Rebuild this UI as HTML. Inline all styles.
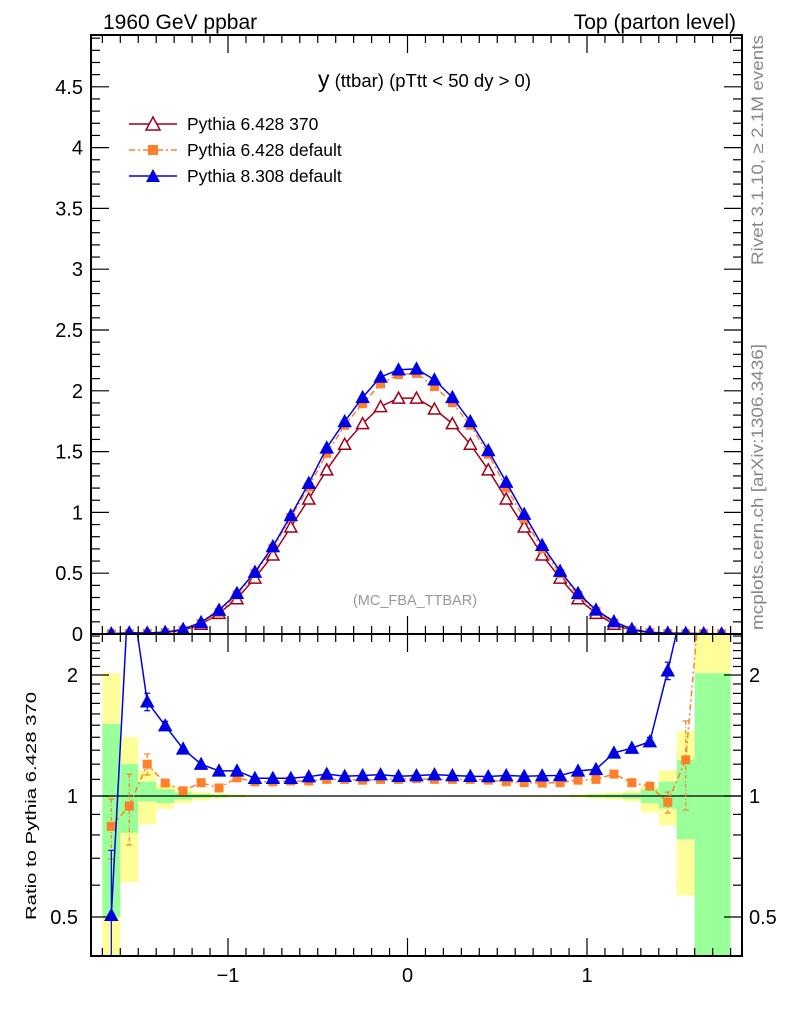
<!DOCTYPE html>
<html><head><meta charset="utf-8"><style>
html,body{margin:0;background:#fff;width:786px;height:1024px;overflow:hidden;}
svg{display:block;font-family:"Liberation Sans",sans-serif;overflow:hidden;}
</style></head><body>
<svg id="chart" width="786" height="1024" viewBox="0 0 786 1024">
<text x="103" y="29" font-size="21">1960 GeV ppbar</text>
<text x="736" y="29" font-size="21" text-anchor="end">Top (parton level)</text>
<text x="531" y="87" font-size="18.5" text-anchor="end"><tspan font-size="23">y</tspan> (ttbar) (pTtt &lt; 50 dy &gt; 0)</text>
<text x="415" y="605" font-size="14.5" fill="#999" text-anchor="middle">(MC_FBA_TTBAR)</text>
<text transform="translate(763,265) rotate(-90)" font-size="16.5" fill="#888" textLength="230" lengthAdjust="spacingAndGlyphs">Rivet 3.1.10, ≥ 2.1M events</text>
<text transform="translate(763,630) rotate(-90)" font-size="16.5" fill="#888" textLength="286" lengthAdjust="spacingAndGlyphs">mcplots.cern.ch [arXiv:1306.3436]</text>
<text transform="translate(36,920) rotate(-90)" font-size="15" textLength="228" lengthAdjust="spacingAndGlyphs">Ratio to Pythia 6.428 370</text>
<g id="legend">
 <g>
  <line x1="129" y1="124" x2="177" y2="124" stroke="#a0001a" stroke-width="1.5"/>
  <polygon points="153,117 146,130 160,130" fill="#fff" stroke="#a0001a" stroke-width="1.5"/>
  <text x="187" y="130" font-size="17.5">Pythia 6.428 370</text></g>
 <g>
  <line x1="129" y1="150" x2="177" y2="150" stroke="#ff7f2a" stroke-width="1.5" stroke-dasharray="6,3,2,3"/>
  <rect x="148" y="145" width="10" height="10" fill="#ff7f2a"/>
  <text x="187" y="156" font-size="17.5">Pythia 6.428 default</text></g>
 <g>
  <line x1="129" y1="176" x2="177" y2="176" stroke="#0000e6" stroke-width="1.5"/>
  <polygon points="153,169 146,182 160,182" fill="#0000e6"/>
  <text x="187" y="182" font-size="17.5">Pythia 8.308 default</text></g>
</g>
<g id="bands"></g><g id="marks"></g><g id="axes"></g>
</svg>
<script>
const centers=[-1.65,-1.55,-1.45,-1.35,-1.25,-1.15,-1.05,-0.95,-0.85,-0.75,-0.65,-0.55,-0.45,-0.35,-0.25,-0.15,-0.05,0.05,0.15,0.25,0.35,0.45,0.55,0.65,0.75,0.85,0.95,1.05,1.15,1.25,1.35,1.45,1.55,1.65,1.75];
const refValues=[0.003,0.003,0.005,0.01,0.03,0.08,0.17,0.29,0.46,0.65,0.88,1.11,1.35,1.56,1.73,1.87,1.94,1.94,1.85,1.73,1.56,1.35,1.11,0.88,0.65,0.46,0.29,0.17,0.08,0.03,0.01,0.004,0.002,0.001,0.0005];
const ratioBlue=[0.505,3.5,1.716,1.496,1.31,1.2,1.155,1.155,1.107,1.107,1.107,1.117,1.134,1.12,1.125,1.13,1.12,1.124,1.13,1.125,1.12,1.118,1.125,1.12,1.123,1.125,1.155,1.165,1.28,1.316,1.365,2.05,3.2,3.5,3.5];
const ratioOrange=[0.84,0.944,1.2,1.077,1.03,1.079,1.047,1.11,1.085,1.085,1.09,1.09,1.1,1.1,1.095,1.1,1.1,1.105,1.1,1.1,1.1,1.095,1.085,1.08,1.077,1.08,1.095,1.1,1.134,1.079,1.058,0.965,1.23,4,4];
const errBlue=[0.45,0,0.05,0.025,0.01,0.008,0.006,0.005,0.004,0.004,0.004,0.004,0.004,0.004,0.004,0.004,0.004,0.004,0.004,0.004,0.004,0.004,0.004,0.004,0.004,0.004,0.005,0.006,0.008,0.01,0.025,0.05,0,0,0];
const errOrange=[0.17,0.2,0.06,0.02,0.01,0.008,0.006,0.005,0.004,0.004,0.004,0.004,0.004,0.004,0.004,0.004,0.004,0.004,0.004,0.004,0.004,0.004,0.004,0.004,0.004,0.004,0.005,0.006,0.008,0.012,0.02,0.06,0.25,0,0];
const yellowHi=[2.02,1.40,1.16,1.07,1.04,1.025,1.015,1.01,1.006,1.005,1.004,1.003,1.003,1.003,1.003,1.003,1.003,1.003,1.003,1.003,1.003,1.003,1.003,1.004,1.005,1.006,1.01,1.015,1.02,1.03,1.06,1.16,1.45,6,6];
const yellowLo=[0.1,0.61,0.85,0.93,0.96,0.975,0.985,0.99,0.994,0.995,0.996,0.997,0.997,0.997,0.997,0.997,0.997,0.997,0.997,0.997,0.997,0.997,0.997,0.996,0.995,0.994,0.99,0.985,0.98,0.97,0.91,0.845,0.565,2.02,2.02];
const greenHi=[1.51,1.2,1.085,1.04,1.02,1.012,1.008,1.005,1.003,1.003,1.002,1.002,1.002,1.002,1.002,1.002,1.002,1.002,1.002,1.002,1.002,1.002,1.002,1.002,1.003,1.003,1.005,1.008,1.01,1.015,1.04,1.085,1.23,2.02,2.02];
const greenLo=[0.5,0.81,0.97,0.96,0.98,0.99,0.992,0.995,0.997,0.997,0.998,0.998,0.998,0.998,0.998,0.998,0.998,0.998,0.998,0.998,0.998,0.998,0.998,0.998,0.997,0.997,0.995,0.992,0.99,0.985,0.96,0.93,0.78,0.1,0.1];
const mainTicks=["0","0.5","1","1.5","2","2.5","3","3.5","4","4.5"];
const xTicks=["−1","0","1"];
const ratioTicks=["0.5","1","2"];

const NS="http://www.w3.org/2000/svg";
const L=91,R=742,T=35,MB=634,RB=956,BW=0.1;
const xS=u=>407.5+u*179.5;
const yM=v=>634-v*121.6;
const yR=r=>796-Math.log2(r)*121;
function mk(tag,attrs,parent){const e=document.createElementNS(NS,tag);for(const k in attrs)e.setAttribute(k,attrs[k]);parent.appendChild(e);return e;}
const bands=document.getElementById('bands'),marks=document.getElementById('marks'),axes=document.getElementById('axes');

const defs=mk('defs',{},document.getElementById('chart'));
const c1=mk('clipPath',{id:'cm'},defs);mk('rect',{x:L,y:T,width:R-L,height:MB-T},c1);
const c2=mk('clipPath',{id:'cr'},defs);mk('rect',{x:L,y:MB,width:R-L,height:RB-MB},c2);
bands.setAttribute('clip-path','url(#cr)');

centers.forEach((c,i)=>{
  const x0=xS(c-BW/2),w=xS(c+BW/2)-x0;
  const yb=mk('rect',{x:x0,y:yR(yellowHi[i]),width:w,height:yR(yellowLo[i])-yR(yellowHi[i]),fill:'#ffff99'},bands);
  
  
  const gb=mk('rect',{x:x0,y:yR(greenHi[i]),width:w,height:yR(greenLo[i])-yR(greenHi[i]),fill:'#99ff99'},bands);
  
  
});
const one=mk('line',{x1:L,x2:R,y1:yR(1),y2:yR(1),stroke:'#000','stroke-width':1.2},bands);



const gm=mk('g',{'clip-path':'url(#cm)'},marks);
const gr=mk('g',{'clip-path':'url(#cr)'},marks);





function tri(g,x,y,fill,stroke){return mk('polygon',{points:`${x},${y-6} ${x-6},${y+5} ${x+6},${y+5}`,fill:fill,stroke:stroke,'stroke-width':1.5},g);}
function series(g,vals,yf,color,dash,marker,name,errs){
  const pts=centers.map((c,i)=>xS(c)+','+yf(vals[i])).join(' ');
  const pl=mk('polyline',{points:pts,fill:'none',stroke:color,'stroke-width':1.5},g);
  if(dash)pl.setAttribute('stroke-dasharray',dash);
  
  
  centers.forEach((c,i)=>{
    const x=xS(c),y=yf(vals[i]);
    if(errs&&errs[i]>0){const e=errs[i]*vals[i];
      const eb=mk('line',{x1:x,x2:x,y1:yf(vals[i]+e),y2:yf(Math.max(vals[i]-e,0.05)),stroke:color,'stroke-width':1.2},g);
      if(dash)eb.setAttribute('stroke-dasharray','4,2,1,2');
      mk('line',{x1:x-3,x2:x+3,y1:yf(vals[i]+e),y2:yf(vals[i]+e),stroke:color,'stroke-width':1.2},g);
      mk('line',{x1:x-3,x2:x+3,y1:yf(Math.max(vals[i]-e,0.05)),y2:yf(Math.max(vals[i]-e,0.05)),stroke:color,'stroke-width':1.2},g);}
    let m;
    if(marker==='open')m=tri(g,x,y,'#fff',color);
    else if(marker==='tri')m=tri(g,x,y,color,color);
    else m=mk('rect',{x:x-4.5,y:y-4.5,width:9,height:9,fill:color},g);
    
    
  });
}
const orangeVals=refValues.map((v,i)=>v*ratioOrange[i]);
const blueVals=refValues.map((v,i)=>v*ratioBlue[i]);
series(gm,refValues,yM,'#a0001a',null,'open','pythia6-370');
series(gm,orangeVals,yM,'#ff7f2a','6,3,2,3','sq','pythia6-default');
series(gm,blueVals,yM,'#0000e6',null,'tri','pythia8-default');
series(gr,ratioOrange,yR,'#ff7f2a','6,3,2,3','sq','ratio-pythia6-default',errOrange);
series(gr,ratioBlue,yR,'#0000e6',null,'tri','ratio-pythia8-default',errBlue);

[[T,MB],[MB,RB]].forEach(([a,b],k)=>{
  const f=mk('rect',{x:L,y:a,width:R-L,height:b-a,fill:'none',stroke:'#000','stroke-width':2},axes);
  
  
});
for(let k=-17;k<=18;k++){
  const u=k/10,x=xS(u);if(x<L||x>R)continue;
  const major=k%10===0,len=major?18:8;
  [[T,1],[MB,-1],[MB,1],[RB,-1]].forEach(([y,d])=>mk('line',{x1:x,x2:x,y1:y,y2:y+d*len,stroke:'#000','stroke-width':1.2},axes));
}
xTicks.forEach((t,i)=>{const tx=mk('text',{x:xS(i-1),y:982,'font-size':20,'text-anchor':'middle'},axes);tx.textContent=t;
  });
for(let k=0;k<=49;k++){
  const v=k/10,y=yM(v);const major=k%5===0,len=major?18:9;
  mk('line',{x1:L,x2:L+len,y1:y,y2:y,stroke:'#000','stroke-width':1.2},axes);
  mk('line',{x1:R,x2:R-len,y1:y,y2:y,stroke:'#000','stroke-width':1.2},axes);
}
mainTicks.forEach((t,i)=>{const tx=mk('text',{x:83,y:yM(i*0.5)+7,'font-size':20,'text-anchor':'end'},axes);tx.textContent=t;
  });
for(let k=4;k<=25;k++){
  const r=k/10,y=yR(r);if(y<MB||y>RB)continue;
  const major=(k===5||k===10||k===20),len=major?18:9;
  mk('line',{x1:L,x2:L+len,y1:y,y2:y,stroke:'#000','stroke-width':1.2},axes);
  mk('line',{x1:R,x2:R-len,y1:y,y2:y,stroke:'#000','stroke-width':1.2},axes);
}
ratioTicks.forEach(t=>{const r=parseFloat(t);
  const a=mk('text',{x:78,y:yR(r)+7,'font-size':20,'text-anchor':'end'},axes);a.textContent=t;
  
  const b=mk('text',{x:749,y:yR(r)+7,'font-size':20},axes);b.textContent=t;
  });
</script>
</body></html>
